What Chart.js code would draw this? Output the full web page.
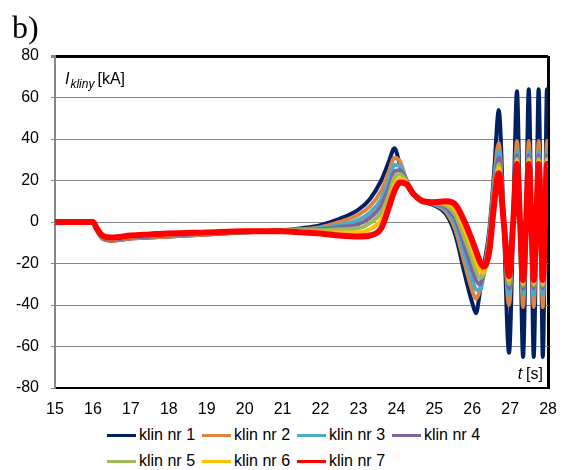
<!DOCTYPE html>
<html>
<head>
<meta charset="utf-8">
<script src="https://cdn.jsdelivr.net/npm/chart.js@4.4.1/dist/chart.umd.min.js"></script>
<style>
  body { margin: 0; background: #fff; font-family: 'Liberation Sans', Arial, sans-serif; }
  #wrap { width: 569px; height: 420px; position: relative; }
  #legend { width: 569px; height: 50px; box-sizing: border-box; padding: 2px 0 0 107px; }
  .item { display: inline-flex; align-items: center; width: 95px; height: 26px; font-size: 16px; color: #000; white-space: nowrap; }
  .item span.line { display: inline-block; width: 29px; height: 3px; margin-right: 3px; }
</style>
</head>
<body>
<div id="wrap"><canvas id="chart"></canvas></div>
<div id="legend"></div>
<script>
// time axis [s]
let tValues = [15, 16, 16.1, 16.25, 16.5, 17, 17.5, 18, 19, 20, 21, 21.5, 22, 22.5, 23, 23.3, 23.6, 23.8, 23.95, 24.1,
  24.25, 24.45, 24.7, 25, 25.3, 25.55, 25.8, 26, 26.1, 26.2, 26.3, 26.45, 26.58, 26.7, 26.83, 26.97, 27.08, 27.18, 27.26, 27.34,
  27.42, 27.49, 27.56, 27.62, 27.69, 27.75, 27.81, 27.86, 27.92, 27.97, 28];

// current per wedge [kA]
let klin1 = [0, 0, -4, -8, -9, -8, -7.5, -7, -6, -5, -4, -3, -1.5, 1.5, 6, 11, 20, 29, 35.5, 27,
  19, 13, 10, 8, 4, -6, -25, -39, -44, -34, -22, -4, 25, 54, 0, -63, 0, 63, 0, -65,
  0, 64, 0, -65, 0, 64, 0, -65, 0, 64, 60];
let klin2 = [0, 0, -4, -8, -9, -8, -7.5, -7, -6, -5, -4, -3.5, -2.5, 0, 3.5, 7.5, 15, 24, 31, 29,
  21, 14, 10.5, 8.5, 5, -3.5, -20, -33, -37, -33, -24, -6, 21, 38, 0, -40, 0, 39, 0, -41,
  0, 39, 0, -41, 0, 39, 0, -41, 0, 39, 37];
let klin3 = [0, 0, -3.5, -7.5, -8.5, -7.5, -7, -6.5, -5.5, -5, -4, -3.5, -3, -1.5, 1, 4.5, 11, 20, 27.5, 27,
  21, 14, 10.5, 8.5, 6, -1, -16, -28, -32.5, -33, -25.5, -8, 18, 34, 0, -35, 0, 34, 0, -35,
  0, 34, 0, -35, 0, 34, 0, -35, 0, 34, 32];
let klin4 = [0, 0, -3.5, -7.5, -8.5, -7.5, -7, -6.5, -5.5, -5, -4, -4, -3.5, -2.5, -1, 2, 8, 16.5, 24.5, 25,
  20.5, 14, 10.5, 9, 7, 1.5, -12, -23, -28, -30, -25.5, -10, 15, 31, 0, -32, 0, 32, 0, -32,
  0, 32, 0, -32, 0, 32, 0, -32, 0, 32, 30];
let klin5 = [0, 0, -3, -7, -8, -7, -6.5, -6, -5.5, -5, -4, -4, -4, -3.5, -3, -0.5, 4.5, 13, 21.5, 23,
  20, 14, 10.5, 9, 8, 3.5, -8, -18, -23.5, -27, -25, -11, 13, 28, 0, -30, 0, 30.5, 0, -30.5,
  0, 30.5, 0, -30.5, 0, 30.5, 0, -30.5, 0, 30.5, 29];
let klin6 = [0, 0, -3, -7, -8, -7, -6.5, -6, -5, -4.5, -4.5, -4.5, -5, -5, -5, -3.5, 1, 9.5, 18, 21,
  19.5, 14, 10, 9.5, 9, 6, -4, -13.5, -19, -23.5, -24.5, -12.5, 11, 26, 0, -28, 0, 29.5, 0, -29.5,
  0, 29.5, 0, -29.5, 0, 29.5, 0, -29.5, 0, 29.5, 28];
let klin7 = [0, 0, -3, -6.5, -7.5, -6.5, -6, -5.5, -5, -4.5, -4.5, -5, -5.5, -6.5, -7, -6.5, -3, 7, 15, 19,
  18.5, 13.5, 10, 9.5, 10, 8.5, 0, -9, -14, -19, -21.5, -14, 9, 23.5, 0, -26, 0, 28, 0, -28,
  0, 28, 0, -28, 0, 28, 0, -28, 0, 28, 27];

let seriesNames = ["klin nr 1", "klin nr 2", "klin nr 3", "klin nr 4", "klin nr 5", "klin nr 6", "klin nr 7"];
let seriesValues = [klin1, klin2, klin3, klin4, klin5, klin6, klin7];

let lineColors = ["#002060", "#DD8444", "#4BACC6", "#8064A2", "#9BBB59", "#FFC000", "#FF0000"];

Chart.defaults.font.family = "'Liberation Sans', Arial, sans-serif";
Chart.defaults.color = "#000";

let datasets = seriesValues.map(function(vals, i) {
    return {
        label: seriesNames[i],
        data: vals.map(function(v, j) { return { x: tValues[j], y: v }; }),
        borderColor: lineColors[i],
        backgroundColor: lineColors[i],
        borderWidth: i === 6 ? 6 : 4,
        pointRadius: 0,
        cubicInterpolationMode: "monotone",
        order: 6 - i,   // last wedge drawn on top
        clip: 0
    };
});

// text inside the plot: "b)", axis names
const textPlugin = {
    id: "textPlugin",
    afterDraw: function(chart) {
        let c = chart.ctx;
        c.save();
        c.fillStyle = "#000";
        c.textBaseline = "alphabetic";
        c.font = "32px 'Liberation Serif', serif";
        c.fillText("b)", 12, 38);

        c.font = "italic 16px 'Liberation Sans', Arial";
        c.fillText("I", 65, 84);
        let x = 65 + c.measureText("I").width + 1;
        c.font = "italic 12px 'Liberation Sans', Arial";
        c.fillText("kliny", x, 88);
        x += c.measureText("kliny").width + 3;
        c.font = "16px 'Liberation Sans', Arial";
        c.fillText("[kA]", x, 84);

        c.textAlign = "right";
        c.fillText("[s]", 543, 379);
        let w = c.measureText("[s]").width;
        c.font = "italic 16px 'Liberation Sans', Arial";
        c.fillText("t", 543 - w - 4, 379);
        c.restore();
    }
};

let ctx = document.getElementById("chart").getContext("2d");
let chart = new Chart(ctx, {
    type: "line",
    data: { datasets: datasets },
    options: {
        responsive: true,
        maintainAspectRatio: false,
        animation: false,
        layout: { padding: { top: 56, right: 16, bottom: 1, left: 0 } },
        plugins: {
            tooltip: { enabled: false },
            legend: { display: false }
        },
        scales: {
            x: {
                type: "linear",
                min: 15,
                max: 28,
                ticks: { stepSize: 1, padding: 12, font: { size: 16 }, color: "#000" },
                grid: {
                    drawTicks: false,
                    color: function(c) { return c.tick && c.tick.value === 28 ? "#000" : "rgba(0,0,0,0)"; },
                    lineWidth: 3
                },
                border: { color: "#000", width: 2 },
                afterFit: function(scale) { scale.height = 31; }
            },
            y: {
                min: -80,
                max: 80,
                ticks: { stepSize: 20, padding: 12, font: { size: 16 }, color: "#000" },
                grid: {
                    color: function(c) { return c.tick && Math.abs(c.tick.value) === 80 ? "#000" : "#868686"; },
                    lineWidth: function(c) { return c.tick && c.tick.value === 80 ? 3 : 1; },
                    tickColor: "#868686",
                    tickLength: 4
                },
                border: { color: "#868686", width: 2 },
                afterFit: function(scale) { scale.width = 55; }
            }
        }
    },
    plugins: [textPlugin]
});

// legend in two rows, four columns, like the original
let legendBox = document.getElementById("legend");
chart.data.datasets.forEach(function(ds) {
    let item = document.createElement("div");
    item.className = "item";
    let line = document.createElement("span");
    line.className = "line";
    line.style.background = ds.borderColor;
    item.appendChild(line);
    item.appendChild(document.createTextNode(ds.label));
    legendBox.appendChild(item);
});
</script>
</body>
</html>
